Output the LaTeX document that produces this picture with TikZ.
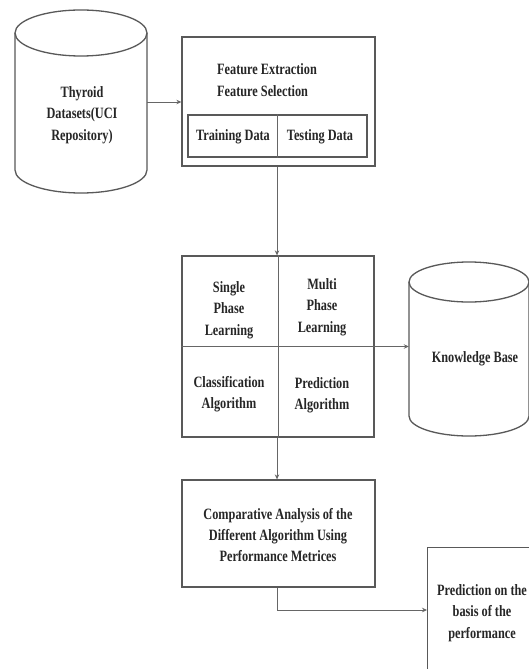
\documentclass[tikz,border=0pt]{standalone}
\usepackage{fontspec}
\setmainfont{Liberation Serif}[FakeStretch=0.78]
\usetikzlibrary{arrows.meta}
\begin{document}
\begin{tikzpicture}[x=1bp,y=-1bp,
  every node/.style={font=\fontsize{15.8}{21.5}\selectfont\bfseries, text=black!85},
  boxline/.style={draw=black!65, line width=1.3bp},
  conn/.style={draw=black!60, line width=0.8bp},
  arr/.style={conn, -{Stealth[length=5bp,width=4.5bp]}},
  blk/.style={boxline, rectangle, inner sep=0pt},
  lbl/.style={align=center, inner sep=0pt}]
\useasboundingbox (0,0) rectangle (529,669);
\clip (0,0) rectangle (529,669);
\fill[white] (0,0) rectangle (529,669);

% cylinder 1
\node[minimum width=132bp, minimum height=183bp, inner sep=0pt] (cyl1) at (81,101.5) {};
\draw[boxline, fill=white] (15,33) -- (15,170) arc[start angle=180, end angle=360, x radius=66, y radius=-23] -- (147,33);
\draw[boxline] (81,33) ellipse [x radius=66, y radius=23];
\node[lbl] (cyl1t) at (82,115) {Thyroid\\Datasets(UCI\\Repository)};

% box 1
\node[blk, minimum width=193bp, minimum height=129bp] (b1) at (278.5,101.5) {};
\node[lbl, align=left, anchor=west] (b1t) at (217,80) {Feature Extraction\\Feature Selection};
\node[blk, minimum width=179bp, minimum height=42bp] (b1in) at (277.5,136) {};
\draw[conn] (b1in.north) -- (b1in.south);
\node[lbl] (train) at (233,137) {Training Data};
\node[lbl] (test) at (320,137) {Testing Data};

% box 2
\node[blk, minimum width=192bp, minimum height=181bp] (b2) at (278,346.5) {};
\draw[conn] (b2.north) -- (b2.south);
\node[lbl] (q1) at (229,310) {Single\\Phase\\Learning};
\node[lbl] (q2) at (322,307) {Multi\\Phase\\Learning};
\node[lbl] (q3) at (229,394) {Classification\\Algorithm};
\node[lbl] (q4) at (322,395) {Prediction\\Algorithm};

% cylinder 2
\node[minimum width=120bp, minimum height=176bp, inner sep=0pt] (cyl2) at (469,348) {};
\draw[boxline, fill=white] (409,282) -- (409,416) arc[start angle=180, end angle=360, x radius=60, y radius=-20] -- (529,282);
\draw[boxline] (469,282) ellipse [x radius=60, y radius=20];
\node[lbl] (cyl2t) at (475,359) {Knowledge Base};

% box 3
\node[blk, minimum width=193bp, minimum height=107bp] (b3) at (278.5,533.5) {};
\node[lbl] (b3t) at (278,535) {Comparative Analysis of the\\Different Algorithm Using\\Performance Metrices};

% box 4 (cut off by the page)
\node[blk, minimum width=120bp, minimum height=150bp, anchor=north west] (b4) at (427,547) {};
\node[lbl] (b4t) at (482,613) {Prediction on the\\basis of the\\performance};

% connectors
\draw[arr] (cyl1.east |- 0,102) -- (b1.west |- 0,102);
\draw[arr] (b1.south -| 277,0) -- (b2.north -| 277,0);
\draw[arr] (b2.west) -- (cyl2.west |- b2.west);
\draw[arr] (b2.south -| 277,0) -- (b3.north -| 277,0);
\coordinate (bend) at (277,610);
\draw[arr] (b3.south -| bend) -- (bend) -- (b4.west |- bend);
\end{tikzpicture}
\end{document}
